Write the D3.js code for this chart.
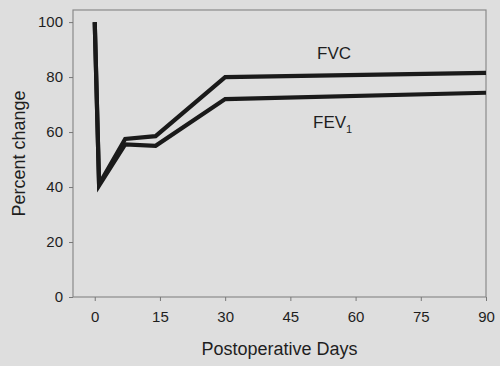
<!DOCTYPE html>
<html>
<head>
<meta charset="utf-8">
<script src="https://cdn.jsdelivr.net/npm/d3@7"></script>
<style>
  body { margin: 0; background: #dedede; }
  svg { display: block; }
  text { font-family: "Liberation Sans", Arial, sans-serif; fill: #1e1e1e; }
</style>
</head>
<body>
<svg id="chart"></svg>
<script>
// data
var days = [0, 1, 7, 14, 30, 90];
var fvc = [100, 41, 57.5, 58.5, 80, 81.5];
var fev1 = [100, 40.5, 55.5, 55, 72, 74.3];
var xTicks = [0, 15, 30, 45, 60, 75, 90];
var yTicks = [0, 20, 40, 60, 80, 100];

var width = 500, height = 366;
// plot box (note: "top" is reserved on window, so use plot* names)
var plotLeft = 73, plotRight = 486, plotTop = 10, plotBottom = 297;

var svg = d3.select("#chart")
  .attr("width", width)
  .attr("height", height);

svg.append("rect")
  .attr("width", width).attr("height", height)
  .attr("fill", "#dedede");

var xScale = d3.scaleLinear().domain([-5, 90]).range([plotLeft, plotRight]);
var yScale = d3.scaleLinear().domain([0, 104.4]).range([plotBottom, plotTop]);

// frame
svg.append("rect")
  .attr("x", plotLeft).attr("y", plotTop)
  .attr("width", plotRight - plotLeft).attr("height", plotBottom - plotTop)
  .attr("fill", "none")
  .attr("stroke", "#8a8a8a")
  .attr("stroke-width", 1.2);

var xAxis = svg.append("g")
  .attr("transform", "translate(0," + plotBottom + ")")
  .call(d3.axisBottom(xScale).tickValues(xTicks).tickSize(4).tickPadding(10));

var yAxis = svg.append("g")
  .attr("transform", "translate(" + plotLeft + ",0)")
  .call(d3.axisLeft(yScale).tickValues(yTicks).tickSize(4).tickPadding(6));

[xAxis, yAxis].forEach(function(g) {
  g.select(".domain").remove();
  g.selectAll("line").attr("stroke", "#777").attr("stroke-width", 1);
  g.selectAll("text").style("font-size", "15px").attr("fill", "#1e1e1e");
});

// axis titles
svg.append("text")
  .attr("x", (plotLeft + plotRight) / 2)
  .attr("y", 355)
  .attr("text-anchor", "middle")
  .style("font-size", "18px")
  .text("Postoperative Days");

svg.append("text")
  .attr("transform", "translate(25," + (plotTop + plotBottom) / 2 + ") rotate(-90)")
  .attr("text-anchor", "middle")
  .style("font-size", "18px")
  .text("Percent change");

// lines
var line = d3.line()
  .x(function(d) { return xScale(d[0]); })
  .y(function(d) { return yScale(d[1]); });

[fvc, fev1].forEach(function(series) {
  svg.append("path")
    .datum(days.map(function(d, i) { return [d, series[i]]; }))
    .attr("d", line)
    .attr("fill", "none")
    .attr("stroke", "#1a1a1a")
    .attr("stroke-width", 4.2)
    .attr("stroke-linejoin", "miter");
});

// labels
svg.append("text")
  .attr("x", 334).attr("y", 59)
  .attr("text-anchor", "middle")
  .style("font-size", "17px")
  .text("FVC");

var fevLabel = svg.append("text")
  .attr("x", 313).attr("y", 128)
  .style("font-size", "17px")
  .text("FEV");
fevLabel.append("tspan")
  .attr("dy", 5)
  .style("font-size", "11px")
  .text("1");
</script>
</body>
</html>
